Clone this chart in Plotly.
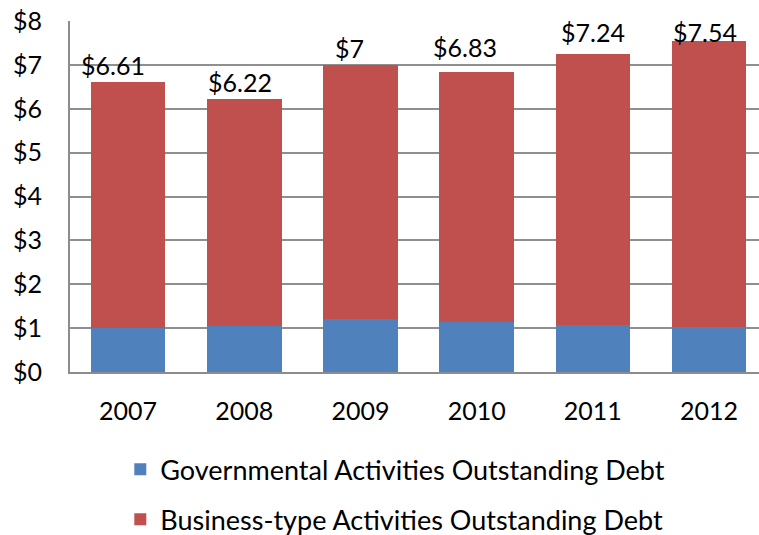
import plotly.graph_objects as go

# Outstanding debt by year, in dollars (billions)
years = ["2007", "2008", "2009", "2010", "2011", "2012"]
total_debt = [6.61, 6.22, 7.00, 6.83, 7.24, 7.54]
governmental = [1.01, 1.05, 1.20, 1.13, 1.08, 1.03]
business_type = [round(t - g, 2) for t, g in zip(total_debt, governmental)]
total_labels = ["$6.61", "$6.22", "$7", "$6.83", "$7.24", "$7.54"]
y_ticks = [0, 1, 2, 3, 4, 5, 6, 7, 8]
y_tick_labels = ["$" + str(v) for v in y_ticks]

BLUE = "#4F81BD"
RED = "#C0504D"
FONT = "Lato"

# small pixel nudges for the total labels above the stacks
label_dx = [-15, -4, -11, -12, 0, -4]
label_dy = [0, 0, 0, 8, 5, -8]

fig = go.Figure()
fig.add_trace(go.Bar(
    x=years, y=governmental, name="Governmental Activities Outstanding Debt",
    marker=dict(color=BLUE, line=dict(width=0)), width=0.643,
    legendgroup="g", hoverinfo="skip",
))
fig.add_trace(go.Bar(
    x=years, y=business_type, name="Business-type Activities Outstanding Debt",
    marker=dict(color=RED, line=dict(width=0)), width=0.643,
    legendgroup="b", hoverinfo="skip",
))

for i, (tot, txt, dx, dy) in enumerate(zip(total_debt, total_labels, label_dx, label_dy)):
    fig.add_annotation(
        x=i, y=tot, text=txt, showarrow=False, yanchor="bottom",
        xshift=dx, yshift=dy, font=dict(family=FONT, size=25, color="#000000"),
    )

fig.update_layout(
    barmode="stack",
    width=759, height=535,
    margin=dict(l=70, r=0, t=21, b=163),
    paper_bgcolor="white", plot_bgcolor="white",
    font=dict(family=FONT, size=25, color="#000000"),
    showlegend=True,
    legend=dict(
        orientation="v", traceorder="grouped", tracegroupgap=12,
        x=0.073, xanchor="left", yref="container", y=0.168, yanchor="top",
        font=dict(family=FONT, size=27, color="#000000"),
        bgcolor="rgba(0,0,0,0)",
    ),
    xaxis=dict(
        type="category", range=[-0.5, 5.43], showgrid=False, showline=True,
        linecolor="#8c8c8c", linewidth=2, ticks="", ticklabelstandoff=16,
        tickfont=dict(family=FONT, size=25),
    ),
    yaxis=dict(
        range=[0, 8], tickvals=y_ticks, ticktext=y_tick_labels,
        showgrid=True, gridcolor="#8f8f8f", gridwidth=1.5,
        showline=True, linecolor="#8c8c8c", linewidth=2, ticks="",
        ticklabelstandoff=21, zeroline=False,
        tickfont=dict(family=FONT, size=25),
    ),
)

fig.write_html("out.html")
